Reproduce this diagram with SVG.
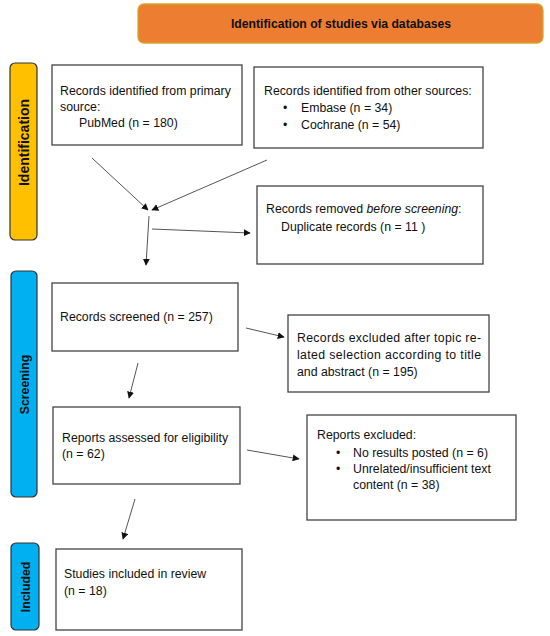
<svg xmlns="http://www.w3.org/2000/svg" width="550" height="636" viewBox="0 0 550 636">
<style>
text{font-family:"Liberation Sans",Arial,sans-serif;font-size:12.3px;fill:#111}
.b{font-weight:bold}
.box{fill:#fff;stroke:#444;stroke-width:1.3}
.bar{stroke:#333;stroke-width:1.2}
.c{stroke:#555;stroke-width:1;fill:none;marker-end:url(#ah)}
</style>
<defs>
<marker id="ah" viewBox="0 0 10 10" refX="9" refY="5" markerWidth="7" markerHeight="7" markerUnits="userSpaceOnUse" orient="auto">
<path d="M0,0L10,5L0,10z" fill="#111"/>
</marker>
</defs>
<g id="header">
<rect x="138" y="4" width="405" height="39" rx="6" fill="#ED7D31" stroke="#D4A62A" stroke-width="1.3"/>
<text class="b" x="341" y="28" text-anchor="middle" style="font-size:12.2px">Identification of studies via databases</text>
</g>
<g id="bar-identification">
<rect class="bar" x="10" y="63" width="27" height="177" rx="5" fill="#FFC000"/>
<text class="b" transform="translate(28.5,142.5) rotate(-90)" text-anchor="middle" style="font-size:14px">Identification</text>
</g>
<g id="bar-screening">
<rect class="bar" x="11" y="271" width="26" height="226" rx="5" fill="#00B0F0"/>
<text class="b" transform="translate(28.5,384.5) rotate(-90)" text-anchor="middle">Screening</text>
</g>
<g id="bar-included">
<rect class="bar" x="11" y="543" width="28" height="87" rx="5" fill="#00B0F0"/>
<text class="b" transform="translate(29.5,587) rotate(-90)" text-anchor="middle">Included</text>
</g>
<g id="primary">
<rect class="box" x="52" y="65" width="190" height="80"/>
<text x="60" y="95">Records identified from primary</text>
<text x="60" y="111">source:</text>
<text x="79" y="127">PubMed (n = 180)</text>
</g>
<g id="other">
<rect class="box" x="254" y="67" width="229" height="81"/>
<text x="264" y="95">Records identified from other sources:</text>
<text x="283" y="112">•</text>
<text x="301" y="112">Embase (n = 34)</text>
<text x="283" y="129">•</text>
<text x="301" y="129">Cochrane (n = 54)</text>
</g>
<g id="removed">
<rect class="box" x="257" y="186" width="226" height="78"/>
<text x="266" y="213">Records removed <tspan font-style="italic">before screening</tspan>:</text>
<text x="281" y="231">Duplicate records (n = 11 )</text>
</g>
<g id="screened">
<rect class="box" x="52" y="283" width="186" height="68"/>
<text x="60" y="321">Records screened (n = 257)</text>
</g>
<g id="excluded1">
<rect class="box" x="288" y="315" width="201" height="77"/>
<text x="297" y="342" textLength="184" lengthAdjust="spacing">Records excluded after topic re-</text>
<text x="297" y="359" textLength="184" lengthAdjust="spacing">lated selection according to title</text>
<text x="297" y="376">and abstract (n = 195)</text>
</g>
<g id="assessed">
<rect class="box" x="53" y="407" width="187" height="77"/>
<text x="62" y="442">Reports assessed for eligibility</text>
<text x="62" y="458">(n = 62)</text>
</g>
<g id="excluded2">
<rect class="box" x="307" y="415" width="209" height="105"/>
<text x="317" y="439">Reports excluded:</text>
<text x="336" y="457">•</text>
<text x="353" y="457">No results posted (n = 6)</text>
<text x="336" y="473">•</text>
<text x="353" y="473">Unrelated/insufficient text</text>
<text x="353" y="489">content (n = 38)</text>
</g>
<g id="included">
<rect class="box" x="56" y="549" width="186" height="81"/>
<text x="64" y="578">Studies included in review</text>
<text x="64" y="595">(n = 18)</text>
</g>
<g id="connectors">
<line class="c" x1="92" y1="158" x2="148" y2="210"/>
<line class="c" x1="267" y1="160" x2="152" y2="210"/>
<line class="c" x1="149" y1="216" x2="146" y2="265"/>
<line class="c" x1="152" y1="229" x2="250" y2="233"/>
<line class="c" x1="246" y1="328" x2="284" y2="337"/>
<line class="c" x1="138" y1="363" x2="129" y2="398"/>
<line class="c" x1="247" y1="450" x2="299" y2="459"/>
<line class="c" x1="135" y1="499" x2="123" y2="539"/>
</g>
</svg>
